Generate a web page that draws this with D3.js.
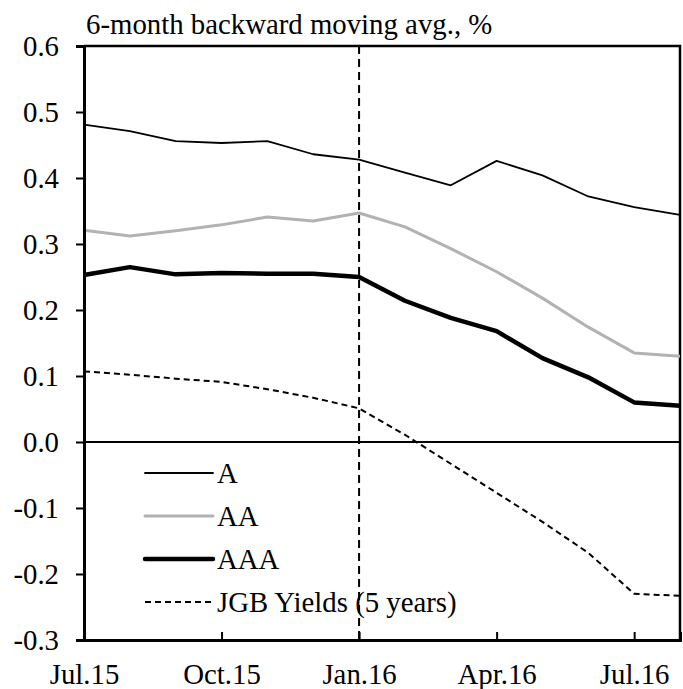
<!DOCTYPE html>
<html>
<head>
<meta charset="utf-8">
<script src="https://cdn.jsdelivr.net/npm/d3@7"></script>
<style>
body { margin: 0; background: #fff; }
text { font-family: "Liberation Serif", "DejaVu Serif", "Times New Roman", serif; fill: #000; }
</style>
</head>
<body>
<div id="chart"></div>
<script>
let width = 683
let height = 689

let margins = {
	'top': 46,
	'right': 2,
	'bottom': 49,
	'left': 84,
}

let fontSize = 28.8

// monthly points, Jul.15 .. Aug.16
let months = ['Jul.15','Aug.15','Sep.15','Oct.15','Nov.15','Dec.15','Jan.16',
	'Feb.16','Mar.16','Apr.16','May.16','Jun.16','Jul.16','Aug.16']
let tickLabels = ['Jul.15','Oct.15','Jan.16','Apr.16','Jul.16']
let yTicks = [-0.3,-0.2,-0.1,0.0,0.1,0.2,0.3,0.4,0.5,0.6]

let ratingA   = [0.481,0.471,0.456,0.453,0.456,0.436,0.428,0.408,0.389,0.426,0.404,0.372,0.356,0.344]
let ratingAA  = [0.321,0.312,0.320,0.329,0.341,0.335,0.347,0.326,0.293,0.258,0.218,0.174,0.135,0.130]
let ratingAAA = [0.253,0.265,0.254,0.256,0.255,0.255,0.250,0.214,0.188,0.168,0.127,0.098,0.060,0.055]
let jgb5y     = [0.107,0.102,0.096,0.091,0.080,0.067,0.051,0.011,-0.033,-0.077,-0.121,-0.168,-0.230,-0.233]

let markerMonth = 'Jan.16'

let series = [
	{ name: 'A', values: ratingA, color: '#000', width: 1.8, dash: null },
	{ name: 'AA', values: ratingAA, color: '#b2b2b2', width: 3, dash: null },
	{ name: 'AAA', values: ratingAAA, color: '#000', width: 4.5, dash: null },
	{ name: 'JGB Yields (5 years)', values: jgb5y, color: '#000', width: 2, dash: '6,4' },
]

let innerW = width - margins.left - margins.right
let innerH = height - margins.top - margins.bottom

let xScale = d3.scalePoint()
	.domain(months)
	.range([0, innerW - 1])

let yScale = d3.scaleLinear()
	.domain([-0.3, 0.6])
	.range([innerH, 0])

let svg = d3.select('#chart').append('svg')
	.attr('width', width)
	.attr('height', height)

// title
svg.append('text')
	.attr('x', 86)
	.attr('y', 34)
	.attr('font-size', fontSize)
	.text('6-month backward moving avg., %')

let inner = svg.append('g')
	.attr('transform', 'translate(' + margins.left + ',' + margins.top + ')')

// frame top + right
inner.append('path')
	.attr('d', `M0,0H${innerW - 1}V${innerH}`)
	.attr('fill', 'none')
	.attr('stroke', '#000')
	.attr('stroke-width', 2.5)

// zero line
inner.append('line')
	.attr('x1', 0).attr('x2', innerW)
	.attr('y1', yScale(0)).attr('y2', yScale(0))
	.attr('stroke', '#000')
	.attr('stroke-width', 2)

// Jan.16 marker
inner.append('line')
	.attr('x1', xScale(markerMonth)).attr('x2', xScale(markerMonth))
	.attr('y1', 0).attr('y2', innerH)
	.attr('stroke', '#000')
	.attr('stroke-width', 2)
	.attr('stroke-dasharray', '8,5')

let line = d3.line()
	.x((d, i) => xScale(months[i]))
	.y(d => yScale(d))

inner.append('g').selectAll('path')
	.data(series)
	.enter().append('path')
	.attr('d', d => line(d.values))
	.attr('fill', 'none')
	.attr('stroke', d => d.color)
	.attr('stroke-width', d => d.width)
	.attr('stroke-dasharray', d => d.dash)
	.attr('stroke-linejoin', 'round')

// axes
let yAxis = d3.axisLeft(yScale)
	.tickValues(yTicks)
	.tickSize(8)
	.tickFormat(d => d < 0 ? '-' + Math.abs(d).toFixed(1) : d.toFixed(1))

let yG = inner.append('g').call(yAxis)
	.attr('font-family', null)
yG.select('.domain').attr('stroke-width', 3)
yG.selectAll('.tick line').attr('stroke-width', 2)
yG.selectAll('.tick text')
	.attr('font-size', fontSize)
	.attr('x', -25)
	.attr('dy', null)
	.attr('y', 9.5)

let xAxis = d3.axisBottom(xScale)
	.tickValues(tickLabels)
	.tickSize(-8)

let xG = inner.append('g')
	.attr('transform', `translate(0,${innerH})`)
	.call(xAxis)
	.attr('font-family', null)
xG.select('.domain').attr('stroke-width', 3)
xG.selectAll('.tick line').attr('stroke-width', 2)
xG.selectAll('.tick text')
	.attr('font-size', fontSize)
	.attr('dy', null)
	.attr('y', 44)

// legend
let legend = inner.append('g')
	.attr('transform', 'translate(61,' + (yScale(0) + 31) + ')')

let items = legend.selectAll('g')
	.data(series)
	.enter().append('g')
	.attr('transform', (d, i) => `translate(0,${i * 43})`)

items.append('line')
	.attr('x1', 0).attr('x2', 68)
	.attr('stroke', d => d.color)
	.attr('stroke-width', d => d.width)
	.attr('stroke-dasharray', d => d.dash)
	.attr('stroke-linecap', d => d.dash ? 'butt' : 'round')

items.append('text')
	.attr('x', 72)
	.attr('y', 10)
	.attr('font-size', fontSize)
	.text(d => d.name)
</script>
</body>
</html>
